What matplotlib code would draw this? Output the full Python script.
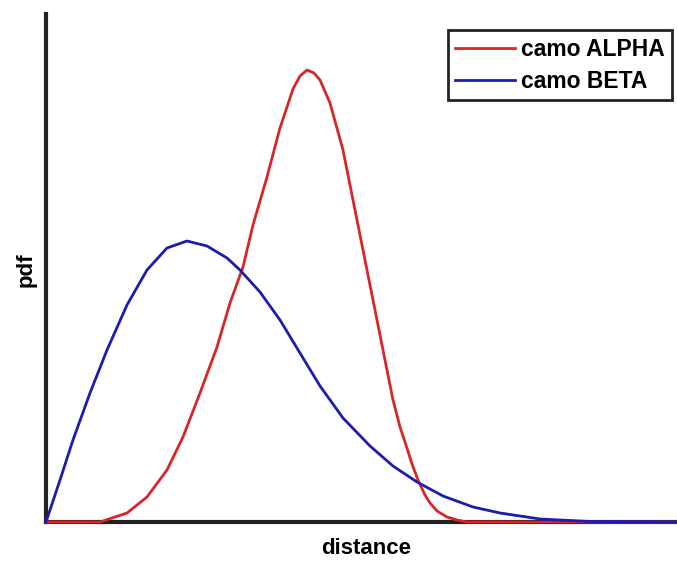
import matplotlib.pyplot as plt

# values (distance in px units, pdf as height above baseline)
alpha_x = [46, 70, 100, 127, 147, 167, 183, 200, 217, 230, 243, 253, 267, 280, 293, 300,
           307, 314, 320, 330, 343, 353, 363, 373, 383, 393, 400, 407, 412, 418, 425, 430,
           437, 447, 457, 467, 500, 677]
alpha_pdf = [0, 0, 0, 9, 25, 52, 85, 129, 175, 219, 255, 297, 345, 394, 433, 446,
             452, 449, 442, 419, 372, 322, 272, 222, 172, 122, 95, 74, 58, 42, 27, 19,
             11, 5, 2, 0, 0, 0]

beta_x = [46, 60, 73, 90, 107, 127, 147, 167, 187, 207, 227, 240, 260, 280, 300, 320,
          343, 370, 393, 417, 443, 473, 500, 540, 590, 677]
beta_pdf = [0, 42, 82, 129, 172, 217, 252, 274, 281, 276, 264, 252, 230, 202, 169, 136,
            104, 76, 56, 40, 26, 15, 9, 3, 0.5, 0]

labels = ["camo ALPHA", "camo BETA"]

plt.rcParams['font.family'] = ['Liberation Sans', 'DejaVu Sans']

W, H = 677, 561
fig = plt.figure(figsize=(W / 100, H / 100), dpi=100)
ax = fig.add_axes([46 / W, (H - 522) / H, (W - 46) / W, (522 - 14) / H])

ax.plot(alpha_x, alpha_pdf, color='#d82626', lw=2, label=labels[0], clip_on=False, zorder=3)
ax.plot(beta_x, beta_pdf, color='#1c1cb0', lw=2, label=labels[1], clip_on=False, zorder=4)

ax.set_xlim(46, 677)
ax.set_ylim(0, 508)
ax.set_xticks([])
ax.set_yticks([])
for side in ['top', 'right']:
    ax.spines[side].set_visible(False)
for side in ['left', 'bottom']:
    ax.spines[side].set_linewidth(3)
    ax.spines[side].set_color('#222222')

fig.text(366 / W, 1 - 549 / H, "distance", ha='center', va='center',
         fontsize=16, fontweight='bold')
fig.text(26 / W, 1 - 270 / H, "pdf", ha='center', va='center', rotation=90,
         fontsize=16, fontweight='bold')

leg = ax.legend(loc='upper right', bbox_to_anchor=((672 - 46) / (W - 46), (522 - 30) / 508),
                prop={'size': 16.5, 'weight': 'bold'}, fancybox=False, handlelength=2.6,
                handletextpad=0.26, borderpad=0.33, labelspacing=0.4, borderaxespad=0)
leg.get_frame().set_edgecolor('#222222')
leg.get_frame().set_linewidth(2)
leg.get_frame().set_alpha(1)

fig.savefig("out.png", dpi=100)
